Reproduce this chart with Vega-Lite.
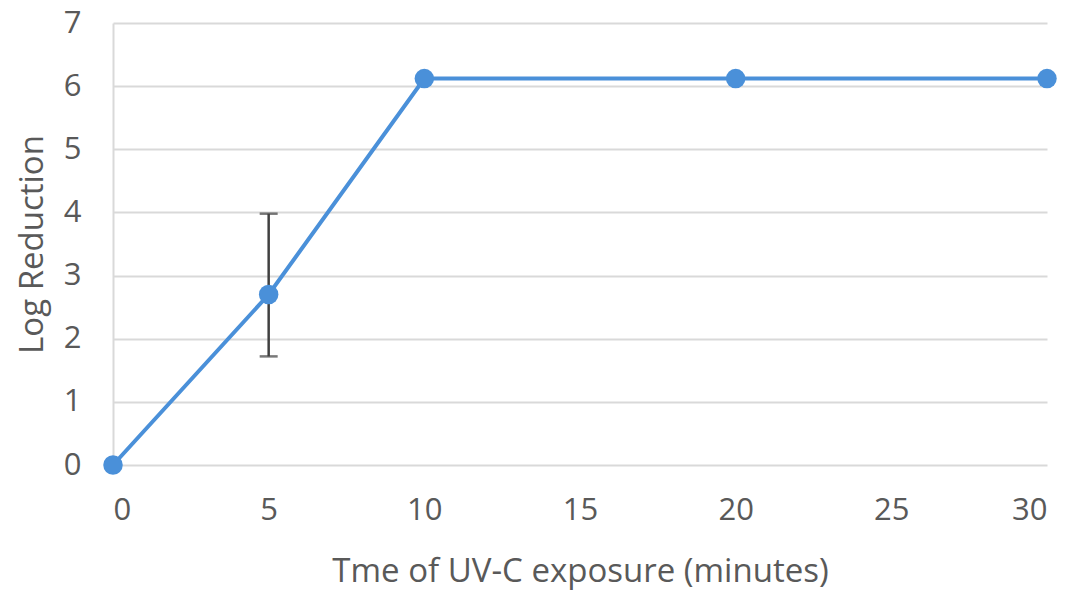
{
  "$schema": "https://vega.github.io/schema/vega-lite/v6.json",
  "autosize": {"type": "none"},
  "padding": {"left": 113, "top": 23, "right": 33, "bottom": 127},
  "width": 934,
  "height": 442,
  "background": "white",
  "config": {
    "view": {"stroke": null},
    "font": "Open Sans",
    "axis": {"labelColor": "#595959", "titleColor": "#595959", "labelFont": "Open Sans", "titleFont": "Open Sans", "titleFontWeight": "normal"}
  },
  "data": {
    "values": [
      {"t": 0, "lr": 0},
      {"t": 5, "lr": 2.7, "hi": 3.98, "lo": 1.72},
      {"t": 10, "lr": 6.12},
      {"t": 20, "lr": 6.12},
      {"t": 30, "lr": 6.12}
    ]
  },
  "encoding": {
    "x": {
      "field": "t", "type": "quantitative",
      "scale": {"domain": [0, 30], "nice": false, "zero": false},
      "axis": {"values": [0, 5, 10, 15, 20, 25, 30], "grid": false, "ticks": false, "domain": false,
               "labelFontSize": 31, "labelPadding": 30, "title": "Tme of UV-C exposure (minutes)",
               "titleFontSize": 33, "titlePadding": 30}
    },
    "y": {
      "field": "lr", "type": "quantitative",
      "scale": {"domain": [0, 7], "nice": false},
      "axis": {"values": [0, 1, 2, 3, 4, 5, 6, 7], "grid": true, "gridColor": "#d9d9d9", "gridWidth": 2,
               "ticks": false, "domain": true, "domainColor": "#d9d9d9", "domainWidth": 2,
               "labelFontSize": 31, "labelPadding": 32, "title": "Log Reduction",
               "titleFontSize": 33, "titlePadding": 14}
    }
  },
  "layer": [
    {
      "mark": {"type": "rule", "color": "#404040", "strokeWidth": 2.5},
      "encoding": {"y": {"field": "lo", "type": "quantitative"}, "y2": {"field": "hi"}}
    },
    {
      "mark": {"type": "tick", "orient": "horizontal", "color": "#404040", "thickness": 2.5, "size": 18},
      "encoding": {"y": {"field": "hi", "type": "quantitative"}}
    },
    {
      "mark": {"type": "tick", "orient": "horizontal", "color": "#404040", "thickness": 2.5, "size": 18},
      "encoding": {"y": {"field": "lo", "type": "quantitative"}}
    },
    {
      "mark": {"type": "line", "color": "#4a90d9", "strokeWidth": 4},
      "encoding": {}
    },
    {
      "mark": {"type": "point", "filled": true, "color": "#4a90d9", "opacity": 1, "size": 380},
      "encoding": {}
    }
  ]
}
